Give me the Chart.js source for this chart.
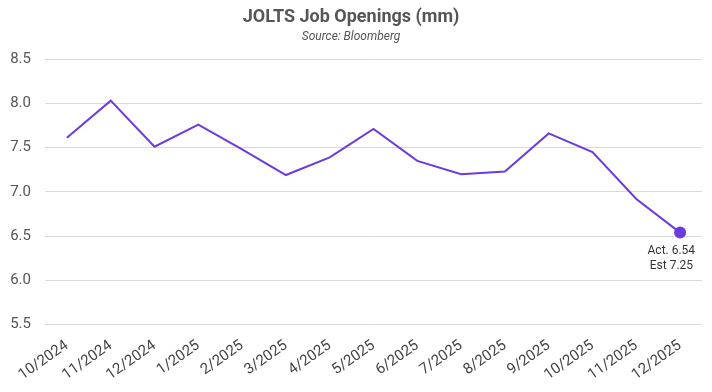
<!DOCTYPE html>
<html>
<head>
<meta charset="utf-8">
<script src="https://cdn.jsdelivr.net/npm/chart.js@4"></script>
<style>
  html, body { margin: 0; padding: 0; background: #fff; }
  #wrap { width: 712px; height: 392px; position: relative; }
</style>
</head>
<body>
<div id="wrap"><canvas id="grafico"></canvas></div>
<script>
// Datos
var meses = ["10/2024", "11/2024", "12/2024", "1/2025", "2/2025", "3/2025", "4/2025",
  "5/2025", "6/2025", "7/2025", "8/2025", "9/2025", "10/2025", "11/2025", "12/2025"];
var vacantes = [7.61, 8.03, 7.51, 7.76, 7.48, 7.19, 7.39, 7.71, 7.35, 7.20, 7.23, 7.66, 7.45, 6.92, 6.54];
var ticksY = [5.5, 6.0, 6.5, 7.0, 7.5, 8.0, 8.5];
var notaFinal = ["Act. 6.54", "Est 7.25"];

var morado = "#6c3be0";
var fuente = "Roboto, 'DejaVu Sans', sans-serif";

// Etiqueta debajo del ultimo punto
var notaPlugin = {
  id: "nota",
  afterDatasetsDraw: function(chart) {
    var meta = chart.getDatasetMeta(0);
    var p = meta.data[meta.data.length - 1];
    var ctx = chart.ctx;
    ctx.save();
    ctx.font = "12px " + fuente;
    ctx.fillStyle = "#333";
    ctx.textAlign = "right";
    ctx.textBaseline = "top";
    ctx.fillText(notaFinal[0], p.x + 15, p.y + 12);
    ctx.fillText(notaFinal[1], p.x + 13, p.y + 27);
    ctx.restore();
  }
};

var radios = vacantes.map(function(v, i) { return i === vacantes.length - 1 ? 6 : 0; });

new Chart(document.getElementById("grafico"), {
  type: "line",
  data: {
    labels: meses,
    datasets: [{
      data: vacantes,
      borderColor: morado,
      backgroundColor: morado,
      borderWidth: 2,
      pointRadius: radios,
      pointHoverRadius: radios,
      pointBorderWidth: 0,
      tension: 0,
    }],
  },
  options: {
    responsive: true,
    maintainAspectRatio: false,
    animation: false,
    layout: { padding: { left: 0, right: 10, top: 0, bottom: 4 } },
    plugins: {
      legend: { display: false },
      tooltip: { enabled: false },
      title: {
        display: true,
        text: "JOLTS Job Openings (mm)",
        color: "#555",
        font: { family: fuente, size: 18, weight: "bold" },
        padding: { top: 7, bottom: 1 },
      },
      subtitle: {
        display: true,
        text: "Source: Bloomberg",
        color: "#555",
        font: { family: fuente, size: 12, style: "italic" },
        padding: { top: 0, bottom: 15 },
      },
    },
    scales: {
      x: {
        offset: true,
        grid: { display: false },
        border: { display: false },
        ticks: {
          color: "#444",
          padding: 4,
          font: { family: fuente, size: 15 },
          minRotation: 35,
          maxRotation: 35,
          autoSkip: false,
        },
      },
      y: {
        min: 5.5,
        max: 8.5,
        afterBuildTicks: function(axis) {
          axis.ticks = ticksY.map(function(v) { return { value: v }; });
        },
        afterFit: function(axis) {
          axis.width = 45;
        },
        grid: { color: "#d9d9d9", drawTicks: false },
        border: { display: false },
        ticks: {
          color: "#555",
          padding: 14,
          font: { family: fuente, size: 15 },
          callback: function(v) { return v.toFixed(1); },
        },
      },
    },
  },
  plugins: [notaPlugin],
});
</script>
</body>
</html>
